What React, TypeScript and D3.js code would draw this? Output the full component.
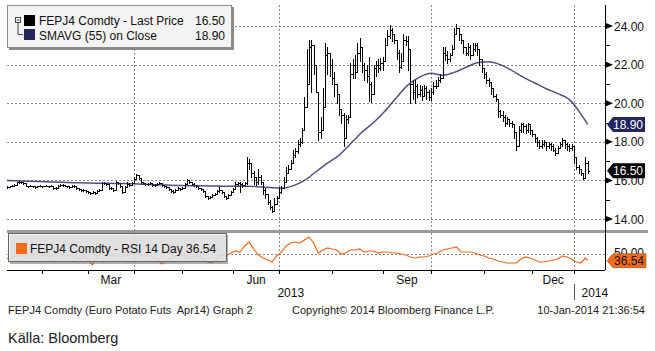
import React from 'react';
import * as d3 from 'd3';

// trading sessions shown: 10 Jan 2013 - 10 Jan 2014 (exchange holidays left out)
const START = new Date(2013, 0, 10);
const END = new Date(2014, 0, 10);
const holidays = ['2013-03-29', '2013-04-01', '2013-05-01', '2013-12-24', '2013-12-25', '2013-12-26', '2013-12-31', '2014-01-01'];

// FEPJ4 daily bars (settle / high / low), one per session
const closes = [
  15.70, 15.65, 15.70, 15.70, 15.75, 15.90, 15.90, 15.90, 15.85, 15.70,
  15.70, 15.70, 15.70, 15.65, 15.70, 15.70, 15.70, 15.70, 15.70, 15.70,
  15.70, 15.60, 15.60, 15.70, 15.75, 15.75, 15.70, 15.70, 15.65, 15.70,
  15.70, 15.60, 15.55, 15.50, 15.50, 15.45, 15.40, 15.35, 15.40, 15.35,
  15.45, 15.50, 15.85, 15.85, 15.80, 15.60, 15.60, 15.50, 15.90, 15.85,
  15.70, 15.40, 15.65, 15.80, 15.75, 15.85, 16.10, 16.30, 16.15, 15.90,
  15.85, 15.80, 15.80, 15.85, 15.75, 15.75, 15.80, 15.85, 15.75, 15.70,
  15.65, 15.55, 15.45, 15.40, 15.50, 15.60, 15.55, 15.60, 15.80, 16.00,
  15.90, 15.80, 15.75, 15.70, 15.60, 15.55, 15.45, 15.20, 15.10, 15.15,
  15.25, 15.30, 15.45, 15.50, 15.40, 15.20, 15.10, 15.25, 15.40, 15.55,
  15.80, 15.85, 15.80, 15.75, 15.85, 16.90, 16.90, 16.40, 16.20, 15.90,
  16.20, 15.90, 15.50, 15.30, 14.90, 14.60, 14.40, 14.80, 15.10, 15.40,
  15.60, 15.90, 16.40, 16.60, 16.90, 17.30, 17.50, 17.90, 18.00, 18.60,
  19.80, 21.00, 22.90, 23.00, 22.00, 20.60, 18.50, 18.60, 19.80, 22.50,
  22.60, 22.00, 21.30, 21.00, 20.50, 19.70, 19.40, 18.20, 19.20, 19.30,
  21.50, 22.00, 21.60, 22.60, 22.90, 22.00, 21.70, 21.40, 21.00, 20.50,
  21.80, 22.00, 21.80, 22.10, 22.20, 23.00, 23.50, 23.80, 23.60, 23.30,
  22.60, 21.90, 22.20, 23.30, 23.20, 22.80, 21.00, 20.60, 20.90, 20.50,
  20.70, 20.40, 20.80, 20.60, 20.30, 20.60, 20.90, 20.90, 21.20, 21.30,
  22.60, 22.50, 22.30, 22.50, 22.80, 23.60, 23.90, 23.60, 23.30, 22.90,
  22.60, 22.90, 22.50, 22.80, 23.00, 22.80, 22.30, 21.80, 21.50, 21.20,
  21.10, 20.80, 20.40, 20.20, 19.60, 19.40, 19.30, 19.00, 19.20, 19.00,
  18.90, 18.50, 17.80, 18.60, 18.90, 18.80, 18.60, 18.90, 18.60, 18.40,
  18.20, 18.00, 17.80, 17.90, 18.00, 17.80, 17.90, 17.80, 17.60, 17.40,
  17.70, 17.90, 18.10, 17.90, 17.80, 17.70, 17.80, 17.20, 16.70, 16.60,
  16.40, 16.15, 16.90, 16.50,
];
const highs = [
  15.75, 15.70, 15.70, 15.75, 15.80, 15.90, 15.95, 15.90, 15.90, 15.85,
  15.70, 15.75, 15.70, 15.70, 15.70, 15.75, 15.70, 15.70, 15.75, 15.70,
  15.75, 15.70, 15.65, 15.75, 15.80, 15.80, 15.75, 15.70, 15.70, 15.75,
  15.75, 15.70, 15.60, 15.55, 15.55, 15.50, 15.45, 15.40, 15.45, 15.40,
  15.50, 15.55, 15.90, 15.90, 15.85, 15.80, 15.65, 15.60, 15.95, 15.90,
  15.85, 15.70, 15.70, 15.90, 15.85, 15.90, 16.20, 16.35, 16.30, 16.15,
  15.90, 15.85, 15.85, 15.90, 15.85, 15.80, 15.85, 15.90, 15.85, 15.75,
  15.70, 15.65, 15.55, 15.50, 15.55, 15.65, 15.60, 15.65, 15.85, 16.05,
  16.00, 15.90, 15.85, 15.75, 15.70, 15.60, 15.55, 15.45, 15.20, 15.20,
  15.30, 15.35, 15.50, 15.70, 15.50, 15.40, 15.20, 15.30, 15.45, 15.60,
  15.90, 15.90, 15.90, 15.85, 15.90, 17.20, 17.10, 16.80, 16.50, 16.20,
  16.60, 16.30, 15.80, 15.60, 15.20, 15.00, 14.70, 15.10, 15.20, 15.65,
  15.70, 16.20, 16.70, 16.80, 17.05, 17.60, 17.70, 18.10, 18.20, 18.70,
  20.30, 22.80, 23.30, 23.30, 22.80, 22.00, 19.80, 19.30, 20.80, 23.10,
  22.90, 22.60, 22.30, 21.60, 21.00, 20.20, 19.60, 19.50, 19.40, 19.40,
  22.10, 22.30, 22.50, 23.10, 23.40, 22.90, 22.10, 22.00, 22.40, 21.10,
  22.00, 22.20, 22.30, 22.35, 22.40, 23.40, 23.80, 24.05, 23.90, 23.60,
  23.30, 22.75, 22.60, 23.60, 23.50, 23.50, 21.70, 21.20, 21.20, 21.00,
  20.95, 20.90, 20.95, 20.90, 20.70, 20.80, 21.10, 21.20, 21.35, 21.50,
  22.90, 22.90, 22.70, 22.60, 23.00, 23.90, 24.10, 23.80, 23.50, 23.10,
  22.90, 23.10, 23.00, 23.10, 23.10, 23.10, 22.60, 22.30, 21.80, 21.60,
  21.30, 21.05, 20.80, 20.50, 20.15, 19.65, 19.60, 19.40, 19.30, 19.20,
  19.10, 18.80, 18.40, 18.80, 19.00, 19.00, 18.90, 19.00, 18.90, 18.60,
  18.40, 18.25, 18.10, 18.10, 18.10, 18.00, 18.00, 17.95, 17.90, 17.70,
  17.80, 18.00, 18.20, 18.10, 17.95, 17.90, 17.90, 17.60, 17.00, 16.80,
  16.60, 16.40, 17.20, 17.00,
];
const lows = [
  15.65, 15.60, 15.65, 15.70, 15.70, 15.80, 15.85, 15.85, 15.80, 15.70,
  15.65, 15.70, 15.65, 15.60, 15.65, 15.70, 15.65, 15.70, 15.70, 15.65,
  15.70, 15.55, 15.55, 15.60, 15.70, 15.70, 15.70, 15.65, 15.60, 15.65,
  15.65, 15.55, 15.50, 15.45, 15.45, 15.40, 15.35, 15.30, 15.35, 15.30,
  15.35, 15.45, 15.50, 15.80, 15.75, 15.55, 15.55, 15.45, 15.50, 15.80,
  15.65, 15.35, 15.40, 15.65, 15.70, 15.75, 15.85, 16.10, 16.10, 15.85,
  15.80, 15.75, 15.75, 15.80, 15.70, 15.70, 15.75, 15.80, 15.70, 15.65,
  15.60, 15.50, 15.40, 15.35, 15.40, 15.50, 15.50, 15.55, 15.60, 15.80,
  15.85, 15.75, 15.70, 15.65, 15.55, 15.50, 15.40, 15.15, 15.05, 15.10,
  15.15, 15.25, 15.30, 15.40, 15.35, 15.15, 15.05, 15.10, 15.25, 15.40,
  15.70, 15.75, 15.40, 15.65, 15.70, 15.80, 16.60, 16.20, 15.80, 15.75,
  15.80, 15.80, 15.30, 15.10, 14.80, 14.50, 14.35, 14.60, 14.90, 15.20,
  15.35, 15.65, 16.20, 16.40, 16.70, 17.05, 17.20, 17.40, 17.80, 17.95,
  18.60, 20.60, 22.50, 20.60, 21.50, 20.60, 18.10, 18.20, 18.90, 20.00,
  21.50, 21.40, 21.00, 20.40, 20.00, 19.40, 19.00, 17.80, 19.00, 19.00,
  19.40, 21.30, 21.30, 22.00, 22.20, 21.60, 21.20, 21.10, 20.10, 20.05,
  21.50, 21.40, 21.60, 21.70, 21.70, 22.60, 23.00, 23.40, 23.20, 23.10,
  22.30, 21.60, 21.80, 23.00, 23.00, 21.70, 20.00, 20.20, 20.00, 20.30,
  20.40, 20.15, 20.50, 20.20, 20.15, 20.15, 20.50, 20.80, 20.90, 21.10,
  21.30, 22.25, 22.10, 22.20, 22.50, 23.30, 23.60, 23.30, 23.10, 22.60,
  22.50, 22.50, 22.30, 22.50, 22.70, 22.50, 22.00, 21.60, 21.30, 21.05,
  20.90, 20.50, 20.30, 20.10, 19.30, 19.30, 19.10, 18.80, 18.90, 18.80,
  18.75, 18.20, 17.60, 17.80, 18.50, 18.50, 18.45, 18.50, 18.40, 18.30,
  18.00, 17.80, 17.70, 17.70, 17.80, 17.60, 17.70, 17.60, 17.50, 17.30,
  17.40, 17.70, 17.80, 17.70, 17.60, 17.50, 17.60, 16.90, 16.60, 16.40,
  16.30, 16.10, 16.20, 16.40,
];

// SMAVG(55) on close at these sessions
const smaDays = [
  0, 5, 10, 15, 20, 25, 30, 35, 40, 45, 50, 55, 60, 65, 70, 75, 80, 85, 90, 95,
  100, 105, 110, 115, 120, 125, 130, 135, 140, 145, 150, 155, 160, 165, 170, 175, 180, 185, 190, 195,
  200, 205, 210, 215, 220, 225, 230, 235, 240, 245, 250, 253,
];
const smaValues = [
  16.00, 15.98, 15.96, 15.94, 15.92, 15.90, 15.88, 15.87, 15.86, 15.85, 15.84, 15.83, 15.80, 15.78, 15.76, 15.74, 15.73, 15.72, 15.71, 15.70,
  15.70, 15.70, 15.67, 15.63, 15.60, 15.72, 16.00, 16.45, 16.90, 17.30, 17.90, 18.50, 19.00, 19.60, 20.30, 20.95, 21.35, 21.55, 21.45, 21.60,
  21.85, 22.10, 22.15, 22.00, 21.70, 21.35, 21.05, 20.75, 20.50, 20.20, 19.45, 18.90,
];

// RSI 14 day, every second session, last value on the final session
const rsiValues = [
  42, 40, 44, 46, 50, 48, 50, 48, 46, 48, 44, 52, 50, 46, 48, 46, 40, 44, 38, 28,
  46, 50, 52, 46, 48, 44, 46, 48, 54, 50, 46, 48, 44, 40, 30, 36, 42, 46, 48, 46,
  42, 46, 44, 40, 34, 32, 40, 48, 46,
  52, 56, 54, 66, 74, 60, 48, 42, 38, 34, 46, 54, 66, 72, 74, 72, 78, 84, 72, 52,
  58, 62, 60, 58, 50, 52, 58, 58, 60, 54, 56, 56, 52, 54, 54, 52, 52, 50, 48, 44,
  42, 44, 44, 46, 50, 52, 58, 60, 62, 64, 54, 54, 54, 52, 48, 46, 42, 40, 36, 34,
  32, 32, 32, 40, 44, 42, 38, 34, 34, 36, 38, 40, 46, 44, 40, 34, 32, 42,
  36.54,
];

const priceTicks = [14, 16, 18, 20, 22, 24];
const priceMinor = [15, 17, 19, 21, 23];
const labelMonths = ['Mar', 'Jun', 'Sep', 'Dec'];
const lastPrice = 16.5;
const lastSma = 18.9;
const lastRsi = 36.54;

const FONT = '"Liberation Sans", Arial, sans-serif';
const ORANGE = '#f26b1d';
const NAVY = '#24245e';

const App: React.FC = () => {
  const fmt = d3.timeFormat('%Y-%m-%d');
  const days = d3.timeDay
    .range(START, d3.timeDay.offset(END, 1))
    .filter((d) => d.getDay() !== 0 && d.getDay() !== 6 && !holidays.includes(fmt(d)));
  const n = days.length;

  const left = 7;
  const right = 605;
  const top = 5;
  const priceBottom = 231;
  const rsiTop = 233;
  const rsiBottom = 270;

  const x = d3.scaleLinear().domain([0, 260.5]).range([5, right]);
  const yP = d3.scaleLinear().domain([13.38, 25.09]).range([priceBottom, top]);
  const yR = d3.scaleLinear().domain([18, 92]).range([rsiBottom, rsiTop]);
  const px = (i: number) => Math.round(x(i)) + 0.5;
  const py = (v: number) => Math.round(yP(v)) + 0.5;

  // bars: high-low stem, open tick left, close tick right
  let bars = '';
  closes.forEach((c, i) => {
    const o = i > 0 ? closes[i - 1] : c;
    const hi = Math.max(highs[i], o, c);
    const lo = Math.min(lows[i], o, c);
    const xx = px(i);
    bars += `M${xx},${Math.round(yP(hi))}V${Math.round(yP(lo)) + 1}`;
    bars += `M${xx - 1.5},${py(o)}H${xx}M${xx},${py(c)}H${xx + 1.5}`;
  });

  const smaPath = d3
    .line<number>()
    .x((_, k) => x(smaDays[k]))
    .y((d) => yP(d))
    .curve(d3.curveMonotoneX)(smaValues) as string;

  const rsiPath = d3
    .line<number>()
    .x((_, k) => x(k === rsiValues.length - 1 ? n - 1 : k * 2))
    .y((d) => yR(d))(rsiValues) as string;

  // first session of every month
  const monthStarts = days
    .map((d, i) => ({ d, i }))
    .filter(({ d, i }) => i > 0 && d.getMonth() !== days[i - 1].getMonth());
  const quarterStarts = monthStarts.filter(({ d }) => d.getMonth() % 3 === 0);
  const labelled = monthStarts
    .map((m, k) => ({ ...m, next: monthStarts[k + 1] }))
    .filter(({ d, next }) => next && labelMonths.includes(d3.timeFormat('%b')(d)));
  const yearStart = monthStarts.find(({ d }) => d.getFullYear() === 2014)!;
  const yearX = px(yearStart.i);

  const tag = (xl: number, yc: number, h: number, w: number) =>
    `M${xl},${yc}L${xl + 6},${yc - h / 2}H${xl + w}V${yc + h / 2}H${xl + 6}Z`;

  return (
    <svg
      width={655}
      height={351}
      style={{ position: 'absolute', left: 0, top: 0, background: '#fff' }}
      fontFamily={FONT}
    >
      <defs>
        <clipPath id="plot">
          <rect x={left} y={top} width={right - left} height={priceBottom - top} />
        </clipPath>
        <clipPath id="rsi">
          <rect x={left} y={rsiTop} width={right - left} height={rsiBottom - rsiTop} />
        </clipPath>
      </defs>
      <rect width={655} height={351} fill="#fff" />

      {/* grid */}
      {priceTicks.map((t) => (
        <line key={t} x1={left} x2={right} y1={py(t)} y2={py(t)} stroke="#8a8a8a" strokeDasharray="2,2" />
      ))}
      <line x1={left} x2={right} y1={Math.round(yR(50)) + 0.5} y2={Math.round(yR(50)) + 0.5} stroke="#8a8a8a" strokeDasharray="2,2" />
      {quarterStarts.map(({ i }) => (
        <line key={i} x1={px(i)} x2={px(i)} y1={top} y2={rsiBottom} stroke="#8a8a8a" strokeDasharray="2,2" />
      ))}

      {/* price bars and moving average */}
      <g clipPath="url(#plot)">
        <path d={bars} fill="none" stroke="#000" strokeWidth={1} />
        <path d={smaPath} fill="none" stroke={NAVY} strokeWidth={1.5} strokeOpacity={0.8} />
      </g>

      {/* RSI */}
      <g clipPath="url(#rsi)">
        <path d={rsiPath} fill="none" stroke={ORANGE} strokeWidth={1.2} />
      </g>

      {/* panel separator */}
      <rect x={left} y={230} width={641} height={3} fill="#9b9b9b" />

      {/* right axis */}
      <line x1={right + 0.5} x2={right + 0.5} y1={top} y2={rsiBottom} stroke="#000" />
      {priceTicks.map((t) => (
        <g key={t}>
          <path d={`M${right + 1},${yP(t) - 3}L${right + 8},${yP(t)}L${right + 1},${yP(t) + 3}Z`} fill="#000" />
          <text x={right + 9} y={yP(t) + 4.5} fontSize={12} fill="#111">
            {t.toFixed(2)}
          </text>
        </g>
      ))}
      {priceMinor.map((t) => (
        <line key={t} x1={right} x2={right + 5} y1={py(t)} y2={py(t)} stroke="#000" />
      ))}
      <text x={right + 9} y={yR(50) + 3} fontSize={12} fill="#111">
        50.00
      </text>

      {/* last value tags */}
      <path d={tag(right + 2, yP(lastSma), 15, 38)} fill={NAVY} />
      <text x={right + 38} y={yP(lastSma) + 4.5} fontSize={12} fill="#fff" textAnchor="end">
        {lastSma.toFixed(2)}
      </text>
      <path d={tag(right + 2, yP(lastPrice), 15, 38)} fill="#000" />
      <text x={right + 38} y={yP(lastPrice) + 4.5} fontSize={12} fill="#fff" textAnchor="end">
        {lastPrice.toFixed(2)}
      </text>
      <path d={tag(right + 2, yR(lastRsi), 14, 39)} fill={ORANGE} stroke="#7a3a10" strokeWidth={0.5} />
      <text x={right + 39} y={yR(lastRsi) + 4.5} fontSize={12} fill="#111" textAnchor="end">
        {lastRsi.toFixed(2)}
      </text>

      {/* bottom axis */}
      <line x1={left} x2={right} y1={rsiBottom + 0.5} y2={rsiBottom + 0.5} stroke="#000" />
      {monthStarts.map(({ i }) => (
        <line key={i} x1={px(i)} x2={px(i)} y1={rsiBottom} y2={rsiBottom + 4} stroke="#000" />
      ))}
      {labelled.map(({ d, i, next }) => (
        <text key={i} x={(x(i) + x(next!.i)) / 2} y={284} fontSize={12} textAnchor="middle" fill="#111">
          {d3.timeFormat('%b')(d)}
        </text>
      ))}
      <text x={(left + yearX) / 2} y={297} fontSize={12} textAnchor="middle" fill="#111">
        2013
      </text>
      <line x1={yearX} x2={yearX} y1={284} y2={300} stroke="#555" />
      <text x={yearX + 7} y={297} fontSize={12} fill="#111">
        2014
      </text>

      {/* price legend */}
      <rect x={9} y={7} width={225} height={43} fill="#8a8a8a" />
      <rect x={7.5} y={5.5} width={224} height={42} fill="#f3f3f3" stroke="#8c8c8c" />
      <rect x={15.5} y={17.5} width={5} height={5} fill="#fff" stroke="#444" />
      <line x1={16.5} x2={19.5} y1={20} y2={20} stroke="#444" />
      <path d="M18,23V34.5H23" fill="none" stroke="#444" />
      <rect x={24} y={15} width={11} height={11} fill="#000" />
      <rect x={24} y={29} width={11} height={11} fill={NAVY} />
      <text x={39} y={25} fontSize={12} fill="#111">
        FEPJ4 Comdty - Last Price
      </text>
      <text x={225} y={25} fontSize={12} fill="#111" textAnchor="end">
        {lastPrice.toFixed(2)}
      </text>
      <text x={39} y={40} fontSize={12} fill="#111">
        SMAVG (55) on Close
      </text>
      <text x={225} y={40} fontSize={12} fill="#111" textAnchor="end">
        {lastSma.toFixed(2)}
      </text>

      {/* RSI legend, see-through */}
      <rect x={10} y={235} width={218} height={29} fill="#777" opacity={0.6} />
      <rect x={8.5} y={233.5} width={218} height={28} fill="#f0f0f0" fillOpacity={0.78} stroke="#666" />
      <rect x={16} y={243} width={11} height={11} fill={ORANGE} />
      <text x={30} y={253} fontSize={12} fill="#111">
        FEPJ4 Comdty - RSI 14 Day {lastRsi.toFixed(2)}
      </text>

      {/* footer */}
      <text x={8} y={314} fontSize={11} fill="#222" xmlSpace="preserve">
        FEPJ4 Comdty (Euro Potato Futs  Apr14) Graph 2
      </text>
      <text x={292} y={314} fontSize={11} fill="#222">
        Copyright© 2014 Bloomberg Finance L.P.
      </text>
      <text x={645} y={314} fontSize={11} fill="#222" textAnchor="end">
        10-Jan-2014 21:36:54
      </text>
      <text x={8} y={343} fontSize={14.5} fill="#222">
        Källa: Bloomberg
      </text>
    </svg>
  );
};

export default App;
